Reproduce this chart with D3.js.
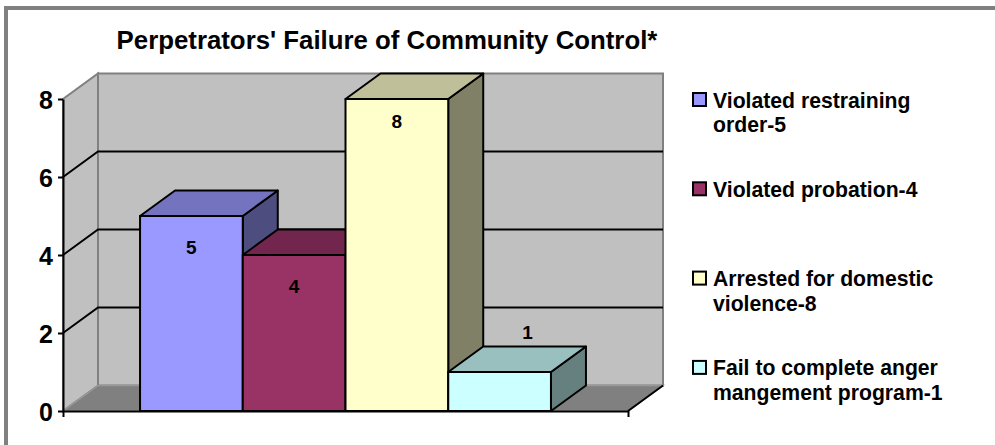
<!DOCTYPE html>
<html>
<head>
<meta charset="utf-8">
<script src="https://cdn.jsdelivr.net/npm/d3@7/dist/d3.min.js"></script>
<style>
  body { margin: 0; background: #fff; }
  svg text { font-family: "Liberation Sans", Arial, sans-serif; font-weight: bold; fill: #000; }
</style>
</head>
<body>
<svg id="chart" width="995" height="445"></svg>
<script>
// chart data
const series = ['Violated restraining order-5', 'Violated probation-4', 'Arrested for domestic violence-8', 'Fail to complete anger mangement program-1'];
const legendLines = [['Violated restraining', 'order-5'], ['Violated probation-4'], ['Arrested for domestic', 'violence-8'], ['Fail to complete anger', 'mangement program-1']];
const values = [5, 4, 8, 1];
const colors = ['#9999ff', '#993366', '#ffffcc', '#ccffff'];
const yTicks = [0, 2, 4, 6, 8];
const title = "Perpetrators' Failure of Community Control*";

const svg = d3.select('#chart');

// frame round the whole chart (right/bottom edges run off the picture)
svg.append('rect')
  .attr('x', 6).attr('y', 8).attr('width', 1000).attr('height', 450)
  .attr('fill', '#fff').attr('stroke', '#808080').attr('stroke-width', 4);

// front plane of the plot and the depth offset of the 3d box
const plotLeft = 63, plotRight = 628, plotBottom = 411, plotTop = 99;
const dx = 35, dy = -25.5;

const x = d3.scaleBand().domain(series).range([plotLeft, plotRight]).paddingInner(0).paddingOuter(0.75);
const y = d3.scaleLinear().domain([0, 8]).range([plotBottom, plotTop]);

const shade = (c, k) => {
  const r = d3.rgb(c);
  return d3.rgb(r.r * k, r.g * k, r.b * k).formatHex();
};
const poly = pts => pts.map(p => p.join(',')).join(' ');

const walls = svg.append('g');
// side wall
walls.append('polygon')
  .attr('points', poly([[plotLeft, y(0)], [plotLeft, y(8)], [plotLeft + dx, y(8) + dy], [plotLeft + dx, y(0) + dy]]))
  .attr('fill', '#c0c0c0').attr('stroke', '#808080').attr('stroke-width', 2);
// back wall
walls.append('polygon')
  .attr('points', poly([[plotLeft + dx, y(0) + dy], [plotLeft + dx, y(8) + dy], [plotRight + dx, y(8) + dy], [plotRight + dx, y(0) + dy]]))
  .attr('fill', '#c0c0c0').attr('stroke', '#808080').attr('stroke-width', 2);
// floor
walls.append('polygon')
  .attr('points', poly([[plotLeft, y(0)], [plotLeft + dx, y(0) + dy], [plotRight + dx, y(0) + dy], [plotRight, y(0)]]))
  .attr('fill', '#808080').attr('stroke', '#999').attr('stroke-width', 1.5);
walls.append('line')
  .attr('x1', plotRight).attr('y1', y(0)).attr('x2', plotRight + dx).attr('y2', y(0) + dy)
  .attr('stroke', '#000').attr('stroke-width', 2);

// gridlines on side and back walls
const grid = svg.append('g').attr('stroke', '#000').attr('stroke-width', 2).attr('fill', 'none');
yTicks.filter(v => v > 0 && v < 8).forEach(v => {
  grid.append('polyline')
    .attr('points', poly([[plotLeft, y(v)], [plotLeft + dx, y(v) + dy], [plotRight + dx, y(v) + dy]]));
});

// bars: right side, top, front
const bars = svg.append('g').attr('stroke', '#000').attr('stroke-width', 2).attr('stroke-linejoin', 'round');
values.forEach((v, i) => {
  const x0 = x(series[i]), x1 = x0 + x.bandwidth();
  const g = bars.append('g');
  g.append('polygon')
    .attr('points', poly([[x1, y(0)], [x1, y(v)], [x1 + dx, y(v) + dy], [x1 + dx, y(0) + dy]]))
    .attr('fill', shade(colors[i], 0.5));
  g.append('polygon')
    .attr('points', poly([[x0, y(v)], [x0 + dx, y(v) + dy], [x1 + dx, y(v) + dy], [x1, y(v)]]))
    .attr('fill', shade(colors[i], 0.75));
  g.append('rect')
    .attr('x', x0).attr('y', y(v)).attr('width', x.bandwidth()).attr('height', y(0) - y(v))
    .attr('fill', colors[i]);
});

// data labels: inside the front for tall bars, over the top for short ones
svg.append('g').selectAll('text').data(values).join('text')
  .attr('text-anchor', 'middle')
  .style('font-size', '19px')
  .attr('x', (v, i) => x(series[i]) + x.bandwidth() / 2 + (v < 3 ? dx * 0.8 : 0))
  .attr('y', v => v < 3 ? y(v) + dy - 8 : y(v) + (v > 6 ? 29 : 38))
  .text(v => v);

// axes
const yAxis = svg.append('g')
  .attr('transform', `translate(${plotLeft},0)`)
  .call(d3.axisLeft(y).tickValues(yTicks).tickSize(5).tickPadding(5).tickSizeOuter(0));
yAxis.select('.domain').attr('stroke', '#000').attr('stroke-width', 2);
yAxis.selectAll('.tick line').attr('stroke', '#000').attr('stroke-width', 2);
yAxis.selectAll('.tick text').style('font-size', '25px').attr('dy', '0.36em');

const xEdge = d3.scaleLinear().domain([0, 1]).range([plotLeft, plotRight]);
const xAxis = svg.append('g')
  .attr('transform', `translate(0,${plotBottom})`)
  .call(d3.axisBottom(xEdge).tickValues([0, 1]).tickFormat('').tickSize(6).tickSizeOuter(0));
xAxis.select('.domain').attr('stroke', '#000').attr('stroke-width', 2);
xAxis.selectAll('.tick line').attr('stroke', '#000').attr('stroke-width', 2);

// title
svg.append('text')
  .attr('x', 387).attr('y', 49)
  .attr('text-anchor', 'middle')
  .style('font-size', '25.8px')
  .text(title);

// legend
const legend = svg.append('g').attr('transform', 'translate(693,93)');
const item = legend.selectAll('g').data(legendLines).join('g')
  .attr('transform', (d, i) => `translate(0,${i * 89.3})`);
item.append('rect')
  .attr('width', 13).attr('height', 13)
  .attr('fill', (d, i) => colors[i]).attr('stroke', '#000').attr('stroke-width', 2);
item.append('text')
  .attr('x', 20).attr('y', 14.5)
  .style('font-size', '21.2px')
  .selectAll('tspan').data(d => d).join('tspan')
  .attr('x', 20).attr('dy', (d, j) => j ? 24.5 : 0)
  .text(d => d);
</script>
</body>
</html>
